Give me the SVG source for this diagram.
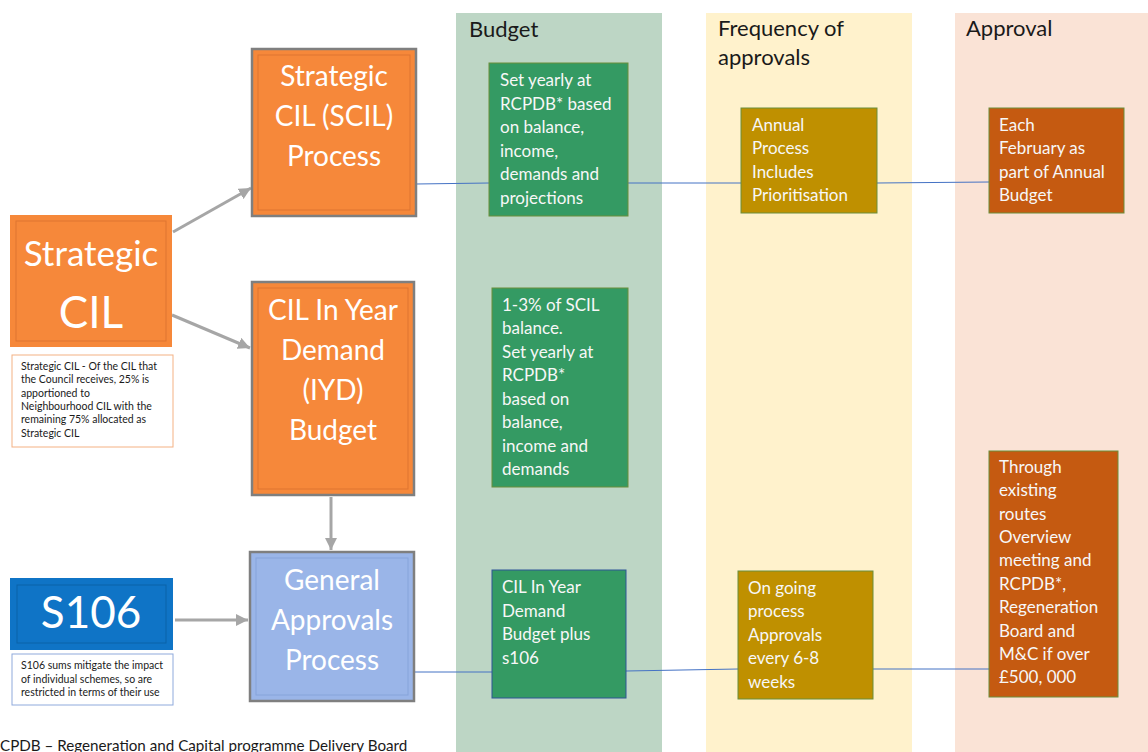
<svg xmlns="http://www.w3.org/2000/svg" width="1148" height="752" viewBox="0 0 1148 752">
<style>
text{font-family:Lato,"Open Sans","Liberation Sans",sans-serif}
.hdr{font-size:22px;fill:#1a1a1a}
.big{font-size:28px;fill:#ffffff;text-anchor:middle}
.mid{font-size:17px;fill:#f7f7f7}
.note{font-size:10.5px;fill:#1a1a1a}
.bevel{fill:none;stroke-width:1}
.grey{stroke:#7f7f7f;stroke-width:2.5}
.arr{stroke:#a6a6a6;stroke-width:3;fill:none;marker-end:url(#ah)}
.conn{stroke:#4472c4;stroke-width:1;fill:none}
.green{fill:#349a63;stroke:#6b8e3a;stroke-width:1}
.gold{fill:#bf9000;stroke:#6b8e3a;stroke-width:1}
.rust{fill:#c55a11;stroke:#6b8e3a;stroke-width:1}
</style>
<defs>
<marker id="ah" viewBox="0 0 10 10" refX="10" refY="5" markerWidth="4" markerHeight="4" orient="auto">
<path d="M0,0 L10,5 L0,10 z" fill="#a6a6a6"/>
</marker>
</defs>
<rect width="1148" height="752" fill="#ffffff"/>
<g id="col-budget">
<rect x="456" y="13" width="206" height="739" fill="#bdd6c5"/>
<text class="hdr" x="469" y="37">Budget</text>
</g>
<g id="col-frequency">
<rect x="706" y="13" width="206" height="739" fill="#fff2cc"/>
<text class="hdr" x="718" y="36">Frequency of</text>
<text class="hdr" x="718" y="65">approvals</text>
</g>
<g id="col-approval">
<rect x="955" y="13" width="193" height="739" fill="#fae3d6"/>
<text class="hdr" x="966" y="36">Approval</text>
</g>
<g id="connectors">
<path class="conn" d="M416,184 L489,183 M628,183 L741,183 M877,183 L989,182"/>
<path class="conn" d="M414,672 L492,672 M626,671 L738,669 M873,669 L989,669"/>
<path class="arr" d="M173,232 L251,188"/>
<path class="arr" d="M172,315 L250,348"/>
<path class="arr" d="M331,497 L331,550"/>
<path class="arr" d="M175,620 L248,620"/>
</g>
<g id="strategic-cil">
<rect x="10" y="215" width="162" height="132" fill="#f6883a"/>
<rect class="bevel" x="16" y="221" width="150" height="120" stroke="#de7530"/>
<text x="91" y="266" font-size="35" fill="#fff" text-anchor="middle">Strategic</text>
<text x="91" y="328" font-size="44" fill="#fff" text-anchor="middle">CIL</text>
</g>
<g id="strategic-cil-note">
<rect x="12" y="355" width="161" height="92" fill="#fff" stroke="#f4b183" stroke-width="1"/>
<text class="note" x="21" y="370">Strategic CIL - Of the CIL that</text>
<text class="note" x="21" y="383">the Council receives, 25% is</text>
<text class="note" x="21" y="397">apportioned to</text>
<text class="note" x="21" y="410">Neighbourhood CIL with the</text>
<text class="note" x="21" y="423">remaining 75% allocated as</text>
<text class="note" x="21" y="437">Strategic CIL</text>
</g>
<g id="scil-process">
<rect class="grey" x="252" y="49" width="164" height="167" fill="#f6883a"/>
<rect class="bevel" x="258" y="55" width="152" height="155" stroke="#de7530"/>
<text class="big" x="334" y="86">Strategic</text>
<text class="big" x="334" y="126">CIL (SCIL)</text>
<text class="big" x="334" y="166">Process</text>
</g>
<g id="iyd-budget">
<rect class="grey" x="252" y="282" width="162" height="213" fill="#f6883a"/>
<rect class="bevel" x="258" y="288" width="150" height="201" stroke="#de7530"/>
<text class="big" x="333" y="320">CIL In Year</text>
<text class="big" x="333" y="360">Demand</text>
<text class="big" x="333" y="400">(IYD)</text>
<text class="big" x="333" y="440">Budget</text>
</g>
<g id="general-approvals">
<rect class="grey" x="250" y="552" width="164" height="149" fill="#9ab5e8"/>
<rect class="bevel" x="256" y="558" width="152" height="137" stroke="#86a4da"/>
<text class="big" x="332" y="590" fill="#f2f2f2">General</text>
<text class="big" x="332" y="630" fill="#f2f2f2">Approvals</text>
<text class="big" x="332" y="670" fill="#f2f2f2">Process</text>
</g>
<g id="s106">
<rect x="10" y="578" width="163" height="72" fill="#0f74c6"/>
<rect class="bevel" x="17" y="585" width="149" height="58" stroke="#0b62a8"/>
<text x="91" y="628" font-size="44" fill="#fff" text-anchor="middle">S106</text>
</g>
<g id="s106-note">
<rect x="12" y="654" width="161" height="51" fill="#fff" stroke="#8faadc" stroke-width="1"/>
<text class="note" x="21" y="669">S106 sums mitigate the impact</text>
<text class="note" x="21" y="683">of individual schemes, so are</text>
<text class="note" x="21" y="696">restricted in terms of their use</text>
</g>
<g id="budget-scil">
<rect class="green" x="489" y="63" width="139" height="153"/>
<text class="mid" x="500" y="86">Set yearly at</text>
<text class="mid" x="500" y="110">RCPDB* based</text>
<text class="mid" x="500" y="133">on balance,</text>
<text class="mid" x="500" y="157">income,</text>
<text class="mid" x="500" y="180">demands and</text>
<text class="mid" x="500" y="204">projections</text>
</g>
<g id="budget-iyd">
<rect class="green" x="492" y="288" width="136" height="199"/>
<text class="mid" x="502" y="311">1-3% of SCIL</text>
<text class="mid" x="502" y="334">balance.</text>
<text class="mid" x="502" y="358">Set yearly at</text>
<text class="mid" x="502" y="381">RCPDB*</text>
<text class="mid" x="502" y="405">based on</text>
<text class="mid" x="502" y="428">balance,</text>
<text class="mid" x="502" y="452">income and</text>
<text class="mid" x="502" y="475">demands</text>
</g>
<g id="budget-general">
<rect x="492" y="570" width="134" height="128" fill="#349a63" stroke="#2f5597" stroke-width="1"/>
<text class="mid" x="502" y="593">CIL In Year</text>
<text class="mid" x="502" y="617">Demand</text>
<text class="mid" x="502" y="640">Budget plus</text>
<text class="mid" x="502" y="664">s106</text>
</g>
<g id="freq-annual">
<rect class="gold" x="741" y="108" width="136" height="105"/>
<text class="mid" x="752" y="131">Annual</text>
<text class="mid" x="752" y="154">Process</text>
<text class="mid" x="752" y="178">Includes</text>
<text class="mid" x="752" y="201">Prioritisation</text>
</g>
<g id="freq-ongoing">
<rect class="gold" x="738" y="571" width="135" height="128"/>
<text class="mid" x="748" y="594">On going</text>
<text class="mid" x="748" y="617">process</text>
<text class="mid" x="748" y="641">Approvals</text>
<text class="mid" x="748" y="664">every 6-8</text>
<text class="mid" x="748" y="688">weeks</text>
</g>
<g id="approval-february">
<rect class="rust" x="989" y="108" width="135" height="105"/>
<text class="mid" x="999" y="131">Each</text>
<text class="mid" x="999" y="154">February as</text>
<text class="mid" x="999" y="178">part of Annual</text>
<text class="mid" x="999" y="201">Budget</text>
</g>
<g id="approval-routes">
<rect class="rust" x="989" y="451" width="129" height="246"/>
<text class="mid" x="999" y="473">Through</text>
<text class="mid" x="999" y="496">existing</text>
<text class="mid" x="999" y="520">routes</text>
<text class="mid" x="999" y="543">Overview</text>
<text class="mid" x="999" y="566">meeting and</text>
<text class="mid" x="999" y="590">RCPDB*,</text>
<text class="mid" x="999" y="613">Regeneration</text>
<text class="mid" x="999" y="637">Board and</text>
<text class="mid" x="999" y="660">M&amp;C if over</text>
<text class="mid" x="999" y="683">£500, 000</text>
</g>
<g id="footnote">
<text x="0" y="751" font-size="15.2" fill="#1a1a1a">CPDB – Regeneration and Capital programme Delivery Board</text>
</g>
</svg>
